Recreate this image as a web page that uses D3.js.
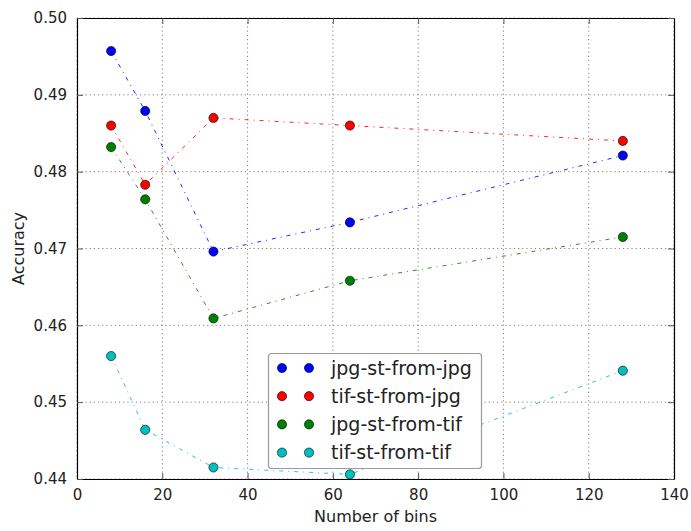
<!DOCTYPE html>
<html>
<head>
<meta charset="utf-8">
<script src="https://cdn.jsdelivr.net/npm/d3@7"></script>
<style>
  html, body { margin: 0; padding: 0; background: #fff; }
  svg { display: block; font-family: "DejaVu Sans", sans-serif; }
</style>
</head>
<body>
<svg id="chart" width="691" height="531"></svg>
<script>
// Number of histogram bins tested
const bins = [8, 16, 32, 64, 128];

// Accuracy per configuration
const jpgStFromJpg = [0.4957, 0.4879, 0.4696, 0.4734, 0.4821];
const tifStFromJpg = [0.4860, 0.4783, 0.4870, 0.4860, 0.4840];
const jpgStFromTif = [0.4832, 0.4764, 0.4609, 0.4658, 0.4715];
const tifStFromTif = [0.4560, 0.4464, 0.4415, 0.4406, 0.4541];

const seriesNames = ["jpg-st-from-jpg", "tif-st-from-jpg", "jpg-st-from-tif", "tif-st-from-tif"];
const seriesColors = ["#0000ff", "#ff0000", "#008000", "#00bfbf"];
const seriesValues = [jpgStFromJpg, tifStFromJpg, jpgStFromTif, tifStFromTif];

const xTicks = [0, 20, 40, 60, 80, 100, 120, 140];
const yTicks = [0.44, 0.45, 0.46, 0.47, 0.48, 0.49, 0.50];

const margin = { left: 77, right: 691 - 674, top: 18, bottom: 531 - 479 };
const W = 691, H = 531;
const svg = d3.select("#chart");

const x = d3.scaleLinear().domain([0, 140]).range([margin.left, W - margin.right]);
const y = d3.scaleLinear().domain([0.44, 0.50]).range([H - margin.bottom, margin.top]);

// grid
const grid = svg.append("g");
grid.selectAll("line.gx").data(xTicks).join("line")
  .attr("x1", d => x(d)).attr("x2", d => x(d))
  .attr("y1", y.range()[1]).attr("y2", y.range()[0])
  .attr("stroke", "#808080").attr("stroke-width", 1).attr("stroke-dasharray", "1.2,3");
grid.selectAll("line.gy").data(yTicks).join("line")
  .attr("y1", d => y(d)).attr("y2", d => y(d))
  .attr("x1", x.range()[0]).attr("x2", x.range()[1])
  .attr("stroke", "#808080").attr("stroke-width", 1).attr("stroke-dasharray", "1.2,3");

// axes with inward ticks on all sides
const fmtY = d3.format(".2f");
const axB = svg.append("g").attr("transform", `translate(0,${y.range()[0]})`)
  .call(d3.axisBottom(x).tickValues(xTicks).tickSizeInner(-6).tickSizeOuter(0).tickPadding(10));
const axT = svg.append("g").attr("transform", `translate(0,${y.range()[1]})`)
  .call(d3.axisTop(x).tickValues(xTicks).tickSizeInner(-6).tickSizeOuter(0).tickFormat(""));
const axL = svg.append("g").attr("transform", `translate(${x.range()[0]},0)`)
  .call(d3.axisLeft(y).tickValues(yTicks).tickSizeInner(-6).tickSizeOuter(0).tickPadding(10).tickFormat(fmtY));
const axR = svg.append("g").attr("transform", `translate(${x.range()[1]},0)`)
  .call(d3.axisRight(y).tickValues(yTicks).tickSizeInner(-6).tickSizeOuter(0).tickFormat(""));

[axB, axT, axL, axR].forEach(a => {
  a.select(".domain").attr("stroke", "#000").attr("stroke-width", 1.2);
  a.selectAll(".tick line").attr("stroke", "#555");
  a.selectAll(".tick text").attr("font-size", 15).attr("fill", "#222")
    .attr("font-family", "DejaVu Sans, sans-serif");
});

// axis titles
svg.append("text").attr("x", (x.range()[0] + x.range()[1]) / 2).attr("y", 522)
  .attr("text-anchor", "middle").attr("font-size", 16).attr("fill", "#222").text("Number of bins");
svg.append("text").attr("transform", `translate(24,${(y.range()[0] + y.range()[1]) / 2}) rotate(-90)`)
  .attr("text-anchor", "middle").attr("font-size", 16).attr("fill", "#222").text("Accuracy");

// series: dash-dot lines with circle markers
const line = d3.line().x(d => x(d[0])).y(d => y(d[1]));
seriesValues.forEach((vals, i) => {
  const pts = bins.map((b, j) => [b, vals[j]]);
  svg.append("path").datum(pts).attr("d", line)
    .attr("fill", "none").attr("stroke", seriesColors[i]).attr("stroke-width", 1)
    .attr("stroke-opacity", 0.85).attr("stroke-dasharray", "4,5,1,5");
});
seriesValues.forEach((vals, i) => {
  svg.append("g").selectAll("circle").data(bins.map((b, j) => [b, vals[j]])).join("circle")
    .attr("cx", d => x(d[0])).attr("cy", d => y(d[1])).attr("r", 4.6)
    .attr("fill", seriesColors[i]).attr("stroke", "#000").attr("stroke-width", 0.6);
});

// legend
const lg = svg.append("g");
lg.append("rect").attr("x", 268.5).attr("y", 353.5).attr("width", 213).attr("height", 115)
  .attr("rx", 3).attr("fill", "#fff").attr("stroke", "#999").attr("stroke-width", 1.2);
seriesNames.forEach((name, i) => {
  const cy = 368 + i * 28.2;
  [282, 309].forEach(cx => {
    lg.append("circle").attr("cx", cx).attr("cy", cy).attr("r", 4.6)
      .attr("fill", seriesColors[i]).attr("stroke", "#000").attr("stroke-width", 0.6);
  });
  lg.append("text").attr("x", 331).attr("y", cy).attr("dy", "0.35em")
    .attr("font-size", 19).attr("fill", "#222").text(name);
});
</script>
</body>
</html>
